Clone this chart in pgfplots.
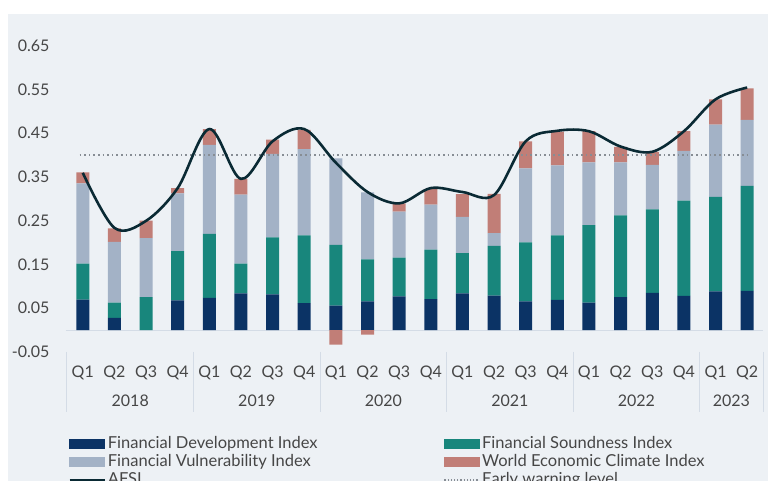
\documentclass[border=0pt]{standalone}
\usepackage{pgfplots}
\usepackage{pgfplotstable}
\pgfplotsset{compat=1.18}
\usepackage{fontspec}
\setmainfont{Lato}
\definecolor{bg}{RGB}{237,241,245}
\definecolor{fdi}{RGB}{11,51,101}
\definecolor{fsi}{RGB}{24,134,124}
\definecolor{fvi}{RGB}{163,178,198}
\definecolor{weci}{RGB}{193,126,119}
\definecolor{afsi}{RGB}{10,42,52}
\definecolor{warn}{RGB}{135,141,148}
\definecolor{axisgrey}{RGB}{212,220,230}
\definecolor{txt}{RGB}{70,70,70}

\pgfplotstableread{
x fdi fsi fvi weci
0 0.070 0.082 0.184 0.025
1 0.028 0.035 0.139 0.031
2 0.000 0.0755 0.135 0.040
3 0.068 0.113 0.132 0.012
4 0.074 0.146 0.204 0.036
5 0.084 0.068 0.158 0.036
6 0.082 0.130 0.191 0.033
7 0.062 0.155 0.197 0.044
8 0.056 0.139 0.198 0.000
9 0.066 0.096 0.153 0.000
10 0.077 0.089 0.105 0.019
11 0.071 0.113 0.103 0.036
12 0.084 0.092 0.083 0.052
13 0.079 0.114 0.029 0.090
14 0.066 0.135 0.169 0.062
15 0.069 0.148 0.160 0.077
16 0.063 0.177 0.144 0.071
17 0.0755 0.187 0.121 0.036
18 0.085 0.191 0.102 0.030
19 0.0785 0.2175 0.114 0.045
20 0.0885 0.2165 0.165 0.058
21 0.090 0.240 0.151 0.072
}\bars

\pgfplotstableread{
x afsi
0 0.360
1 0.234
2 0.250
3 0.325
4 0.460
5 0.346
6 0.432
7 0.460
8 0.383
9 0.316
10 0.290
11 0.325
12 0.316
13 0.309
14 0.432
15 0.456
16 0.455
17 0.420
18 0.408
19 0.455
20 0.528
21 0.555
}\afsidata

\pgfplotsset{
  base/.style={at={(66pt,129pt)}, anchor=south west, scale only axis,
    width=697pt, height=306pt, xmin=-0.53, xmax=21.5, ymin=-0.05, ymax=0.65, clip=false},
}
\newcommand{\tfont}{\fontsize{16}{18}\selectfont}
\newcommand{\lfont}{\fontsize{16.5}{18}\selectfont}

\begin{document}
\begin{tikzpicture}
\fill[white] (0,0) rectangle (768pt,481pt);
\fill[bg] (8pt,0) rectangle (768pt,467pt);
\begin{axis}[base,
  ybar stacked, bar width=13pt,
  axis line style={draw=none}, major tick length=0pt,
  xtick={0,...,21},
  xticklabels={Q1,Q2,Q3,Q4,Q1,Q2,Q3,Q4,Q1,Q2,Q3,Q4,Q1,Q2,Q3,Q4,Q1,Q2,Q3,Q4,Q1,Q2},
  ytick={-0.05,0.05,0.15,0.25,0.35,0.45,0.55,0.65},
  yticklabels={-0.05,0.05,0.15,0.25,0.35,0.45,0.55,0.65},
  tick label style={font=\tfont, text=txt},
  xticklabel style={anchor=base, yshift=-25.5pt},
  yticklabel style={anchor=base east, yshift=-5.5pt, xshift=-13pt},
  extra y ticks={0}, extra y tick labels={},
  extra y tick style={grid=major, major grid style={axisgrey, line width=1pt}},
]
\addplot[fill=fdi, draw=none] table[x=x, y=fdi] {\bars};
\addplot[fill=fsi, draw=none] table[x=x, y=fsi] {\bars};
\addplot[fill=fvi, draw=none] table[x=x, y=fvi] {\bars};
\addplot[fill=weci, draw=none] table[x=x, y=weci] {\bars};
\draw[axisgrey, line width=1pt] (axis cs:-0.5,-0.05) -- ++(0pt,-60pt);
\draw[axisgrey, line width=1pt] (axis cs:3.5,-0.05) -- ++(0pt,-60pt);
\draw[axisgrey, line width=1pt] (axis cs:7.5,-0.05) -- ++(0pt,-60pt);
\draw[axisgrey, line width=1pt] (axis cs:11.5,-0.05) -- ++(0pt,-60pt);
\draw[axisgrey, line width=1pt] (axis cs:15.5,-0.05) -- ++(0pt,-60pt);
\draw[axisgrey, line width=1pt] (axis cs:19.5,-0.05) -- ++(0pt,-60pt);
\draw[axisgrey, line width=1pt] (axis cs:21.5,-0.05) -- ++(0pt,-60pt);
\node[anchor=base, font=\tfont, text=txt] at (axis cs:1.5,-0.05) [yshift=-54.5pt] {2018};
\node[anchor=base, font=\tfont, text=txt] at (axis cs:5.5,-0.05) [yshift=-54.5pt] {2019};
\node[anchor=base, font=\tfont, text=txt] at (axis cs:9.5,-0.05) [yshift=-54.5pt] {2020};
\node[anchor=base, font=\tfont, text=txt] at (axis cs:13.5,-0.05) [yshift=-54.5pt] {2021};
\node[anchor=base, font=\tfont, text=txt] at (axis cs:17.5,-0.05) [yshift=-54.5pt] {2022};
\node[anchor=base, font=\tfont, text=txt] at (axis cs:20.5,-0.05) [yshift=-54.5pt] {2023};
\end{axis}
\begin{axis}[base, hide axis,
  legend columns=2,
  legend cell align=left,
  legend style={at={(0.003,-0.271)}, anchor=north west, draw=none, fill=none,
    font=\lfont, text=txt, inner sep=0pt, row sep=0pt,
    nodes={inner xsep=2pt, inner ysep=1pt, text height=12pt, text depth=4pt},
    /tikz/every even column/.append style={column sep=124pt}},
]
\addplot[ybar, bar width=13pt, fill=weci, draw=none, forget plot] coordinates {(8,-0.033) (9,-0.010)};
\addplot[warn, line width=1.9pt, dash pattern=on 1.6pt off 3.0pt, forget plot] coordinates {(-0.1,0.40) (21.0,0.40)};
\addplot[afsi, line width=2.6pt, smooth, tension=0.55, forget plot] table[x=x, y=afsi] {\afsidata};
\addlegendimage{legend image code/.code={\fill[fdi] (0pt,-4.5pt) rectangle (35pt,4.5pt);}}
\addlegendentry{Financial Development Index}
\addlegendimage{legend image code/.code={\fill[fsi] (0pt,-4.5pt) rectangle (35pt,4.5pt);}}
\addlegendentry{Financial Soundness Index}
\addlegendimage{legend image code/.code={\fill[fvi] (0pt,-4.5pt) rectangle (35pt,4.5pt);}}
\addlegendentry{Financial Vulnerability Index}
\addlegendimage{legend image code/.code={\fill[weci] (0pt,-4.5pt) rectangle (35pt,4.5pt);}}
\addlegendentry{World Economic Climate Index}
\addlegendimage{legend image code/.code={\draw[afsi, line width=2.6pt] (0pt,0pt) -- (35pt,0pt);}}
\addlegendentry{AFSI}
\addlegendimage{legend image code/.code={\draw[warn, line width=1.5pt, dash pattern=on 1.2pt off 2pt] (0pt,0pt) -- (35pt,0pt);}}
\addlegendentry{Early warning level}
\end{axis}
\pgfresetboundingbox
\useasboundingbox (0,0) rectangle (768pt,481pt);
\end{tikzpicture}
\end{document}
